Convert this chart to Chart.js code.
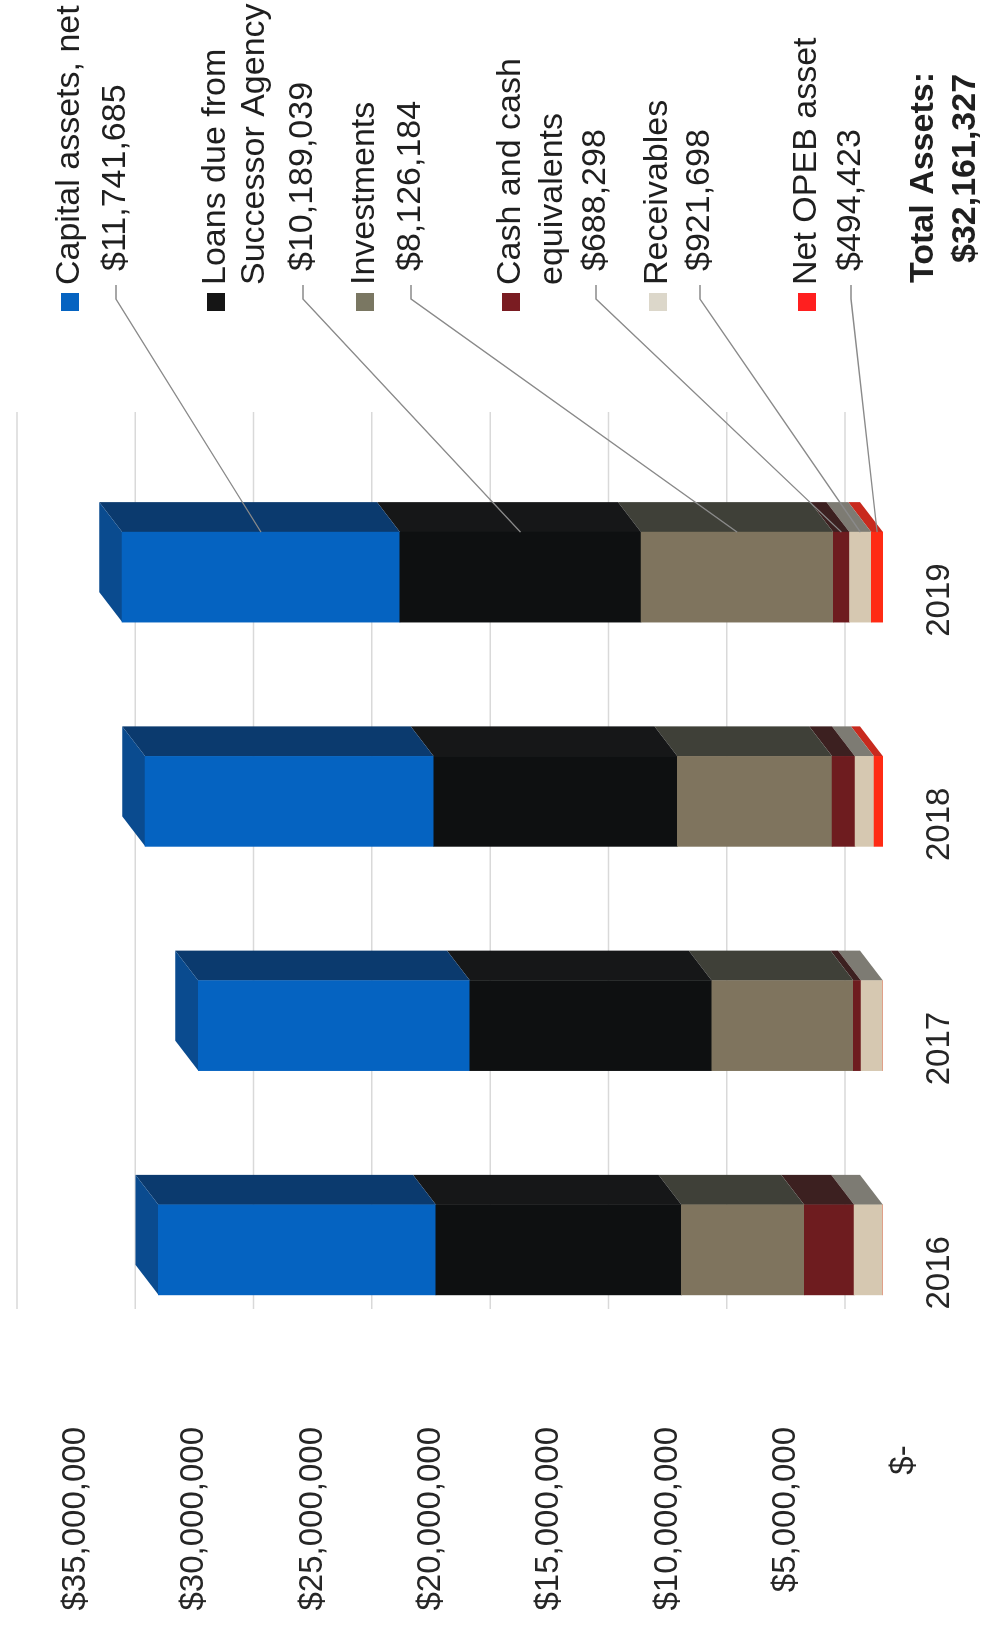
<!DOCTYPE html>
<html>
<head>
<meta charset="utf-8">
<script src="https://cdn.jsdelivr.net/npm/chart.js@4.4.0/dist/chart.umd.min.js"></script>
<style>
  html, body { margin: 0; padding: 0; background: #fff; overflow: hidden; }
  /* chart is drawn landscape and turned a quarter to the left */
  #wrap { position: absolute; left: 0; top: 0; width: 1625px; height: 986px;
          transform-origin: 0 0; transform: translate(0, 1625px) rotate(-90deg); }
</style>
</head>
<body>
<div id="wrap"><canvas id="assets" width="1625" height="986"></canvas></div>
<script>
const years = ['2016', '2017', '2018', '2019'];
const capitalAssets = [11730000, 11480000, 12200000, 11741685];
const loansSuccessor = [10380000, 10220000, 10300000, 10189039];
const investments = [5190000, 5990000, 6540000, 8126184];
const cashEquivalents = [2110000, 320000, 970000, 688298];
const receivables = [1220000, 930000, 800000, 921698];
const netOpeb = [0, 0, 380000, 494423];

const seriesNames = ['Capital assets, net', 'Loans due from Successor Agency', 'Investments',
  'Cash and cash equivalents', 'Receivables', 'Net OPEB asset'];
const seriesValues = [capitalAssets, loansSuccessor, investments, cashEquivalents, receivables, netOpeb];

const FONT = '"Liberation Sans", Arial, sans-serif';
const front = ['#0563c1', '#0e1011', '#7f745e', '#6e1c1f', '#d6c8b1', '#ff2b14'];
const side = ['#0b3a6e', '#161718', '#3f4038', '#3c2020', '#7d7b73', '#c82a1e'];
const keyColor = ['#0563c1', '#151515', '#7a7762', '#7a1c22', '#dcd7ca', '#ff1f1f'];
const topFace = '#0a4b8f';

const depth = { x: 30, y: -23 };  // bar depth
const wall = { x: 53, y: -38 };   // back wall

// label block on the right (original orientation): text lines and their rows
const labelRows = [
  { lines: ['Capital assets, net'], at: [70], valueAt: 116 },
  { lines: ['Loans due from', 'Successor Agency'], at: [216, 255], valueAt: 303 },
  { lines: ['Investments'], at: [365], valueAt: 411 },
  { lines: ['Cash and cash', 'equivalents'], at: [511, 553], valueAt: 596 },
  { lines: ['Receivables'], at: [658], valueAt: 700 },
  { lines: ['Net OPEB asset'], at: [807], valueAt: 851 }
];

const money = v => '$' + Math.round(v).toLocaleString('en-US');

// datasets stacked from the base up
const datasets = [5, 4, 3, 2, 1, 0].map(k => ({
  label: seriesNames[k],
  data: seriesValues[k],
  backgroundColor: front[k],
  sideColor: side[k],
  series: k,
  borderWidth: 0,
  barThickness: 90
}));

function poly(ctx, pts, color) {
  ctx.beginPath();
  ctx.moveTo(pts[0][0], pts[0][1]);
  pts.slice(1).forEach(p => ctx.lineTo(p[0], p[1]));
  ctx.closePath();
  ctx.fillStyle = color;
  ctx.fill();
}

const frame3d = {
  id: 'frame3d',
  beforeDatasetsDraw(chart) {
    const { ctx, chartArea, scales } = chart;
    ctx.save();
    ctx.strokeStyle = '#d9d9d9';
    ctx.lineWidth = 1.5;
    scales.y.ticks.forEach(t => {
      const py = scales.y.getPixelForValue(t.value) + wall.y;
      ctx.beginPath();
      ctx.moveTo(chartArea.left + wall.x, py);
      ctx.lineTo(chartArea.right + wall.x, py);
      ctx.stroke();
    });
    years.forEach((yr, j) => {
      let topBar = null;
      chart.data.datasets.forEach((ds, i) => {
        if (!ds.data[j]) return;
        const bar = chart.getDatasetMeta(i).data[j];
        const { x, y, base, width } = bar.getProps(['x', 'y', 'base', 'width'], true);
        const r = x + width / 2;
        poly(ctx, [[r, base], [r, y], [r + depth.x, y + depth.y], [r + depth.x, base + depth.y]], ds.sideColor);
        topBar = { x, y, width };
      });
      if (topBar) {
        const l = topBar.x - topBar.width / 2, r = topBar.x + topBar.width / 2;
        poly(ctx, [[l, topBar.y], [r, topBar.y], [r + depth.x, topBar.y + depth.y], [l + depth.x, topBar.y + depth.y]], topFace);
      }
    });
    ctx.restore();
  },
  afterDraw(chart) {
    const ctx = chart.ctx;
    const last = years.length - 1;
    ctx.save();
    ctx.font = '34px ' + FONT;
    ctx.textBaseline = 'middle';
    ctx.textAlign = 'left';
    labelRows.forEach((row, k) => {
      // legend key
      ctx.fillStyle = keyColor[k];
      ctx.fillRect(1314, row.at[0] - 9, 18, 18);
      ctx.fillStyle = '#1f1f1f';
      row.lines.forEach((line, n) => ctx.fillText(line, 1340, row.at[n]));
      ctx.fillText(money(seriesValues[k][last]), 1354, row.valueAt);
      // leader line to the 2019 segment
      const di = chart.data.datasets.findIndex(d => d.series === k);
      const bar = chart.getDatasetMeta(di).data[last];
      const { x, y, base, width } = bar.getProps(['x', 'y', 'base', 'width'], true);
      ctx.strokeStyle = '#8a8a8a';
      ctx.lineWidth = 1.3;
      ctx.beginPath();
      ctx.moveTo(1340, row.valueAt);
      ctx.lineTo(1326, row.valueAt);
      ctx.lineTo(x + width / 2, (y + base) / 2);
      ctx.stroke();
    });
    const total = seriesValues.reduce((s, arr) => s + arr[last], 0);
    ctx.fillStyle = '#1f1f1f';
    ctx.font = 'bold 34px ' + FONT;
    ctx.fillText('Total Assets:', 1342, 924);
    ctx.fillText(money(total), 1362, 966);
    ctx.restore();
  }
};

new Chart(document.getElementById('assets'), {
  type: 'bar',
  data: { labels: years, datasets: datasets },
  options: {
    responsive: false,
    devicePixelRatio: 1,
    animation: false,
    layout: { padding: { left: 0, right: 465, top: 55, bottom: 0 } },
    plugins: { legend: { display: false }, tooltip: { enabled: false } },
    scales: {
      x: {
        stacked: true,
        grid: { display: false, drawTicks: false },
        border: { display: false },
        ticks: { color: '#262626', font: { family: FONT, size: 33 }, padding: 37,
                 labelOffset: -23, maxRotation: 0, autoSkip: false },
        afterFit: s => { s.height = 103; s.paddingLeft = 0; s.paddingRight = 0; }
      },
      y: {
        stacked: true,
        min: 0,
        max: 35000000,
        grid: { display: false, drawTicks: false },
        border: { display: false },
        ticks: { stepSize: 5000000, color: '#262626', font: { family: FONT, size: 33 },
                 padding: 65, labelOffset: 21,
                 callback: v => v === 0 ? '$-  ' : money(v) },
        afterFit: s => { s.width = 263; s.paddingTop = 0; s.paddingBottom = 0; }
      }
    }
  },
  plugins: [frame3d]
});
</script>
</body>
</html>
